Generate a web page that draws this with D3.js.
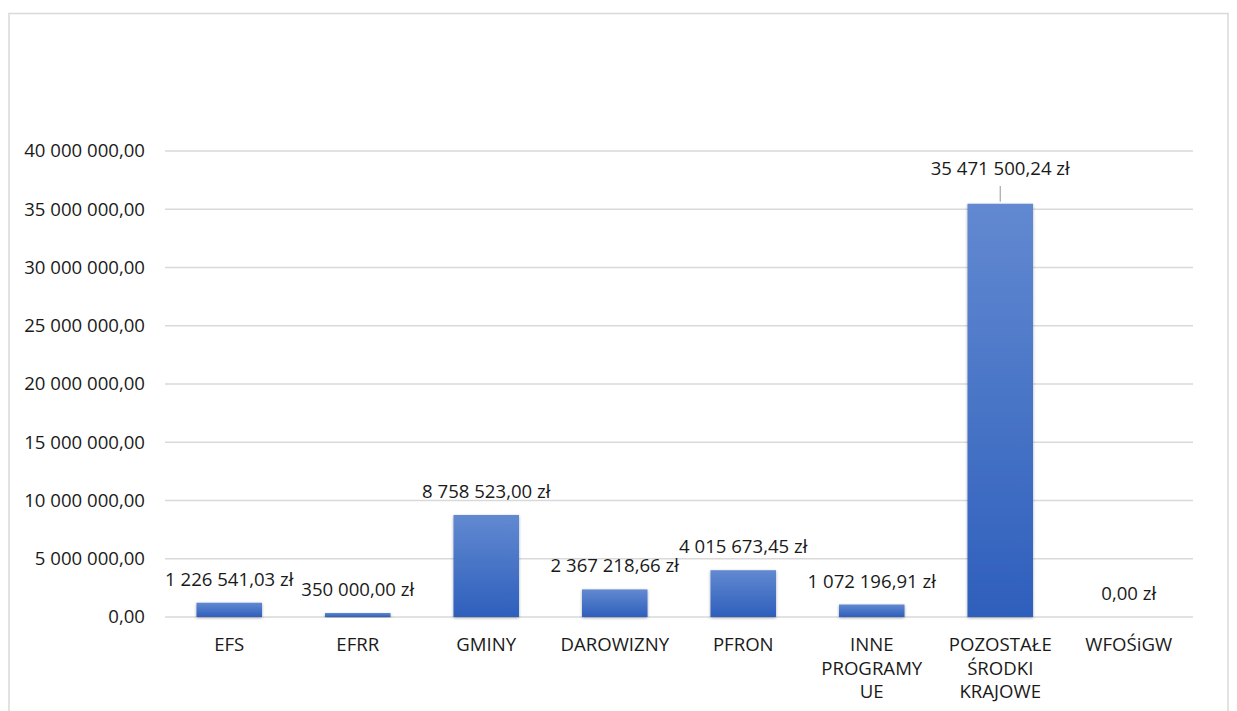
<!DOCTYPE html>
<html><head><meta charset="utf-8">
<script src="https://cdn.jsdelivr.net/npm/d3@7"></script>
<style>
body{margin:0;background:#fff;}
svg{display:block;font-family:"Open Sans",sans-serif;}
</style></head><body>
<svg id="c" width="1237" height="711"></svg>
<script>
const categories = [["EFS"],["EFRR"],["GMINY"],["DAROWIZNY"],["PFRON"],["INNE","PROGRAMY","UE"],["POZOSTAŁE","ŚRODKI","KRAJOWE"],["WFOŚiGW"]];
const values = [1226541.03, 350000.00, 8758523.00, 2367218.66, 4015673.45, 1072196.91, 35471500.24, 0];
const valueLabels = ["1 226 541,03 zł","350 000,00 zł","8 758 523,00 zł","2 367 218,66 zł","4 015 673,45 zł","1 072 196,91 zł","35 471 500,24 zł","0,00 zł"];
const yTicks = [0,5000000,10000000,15000000,20000000,25000000,30000000,35000000,40000000];
const yTickLabels = ["0,00","5 000 000,00","10 000 000,00","15 000 000,00","20 000 000,00","25 000 000,00","30 000 000,00","35 000 000,00","40 000 000,00"];

const FS = 18.6;
const TXT = "#1a1a1a";
const svg = d3.select("#c");
const defs = svg.append("defs");
const g1 = defs.append("linearGradient").attr("id","bg").attr("x1",0).attr("y1",0).attr("x2",0).attr("y2",1);
g1.append("stop").attr("offset","0%").attr("stop-color","#6289d1");
g1.append("stop").attr("offset","100%").attr("stop-color","#2e5fbc");
const f = defs.append("filter").attr("id","sh").attr("x","-20%").attr("y","-20%").attr("width","140%").attr("height","140%");
f.append("feGaussianBlur").attr("in","SourceAlpha").attr("stdDeviation",1.5).attr("result","b");
f.append("feOffset").attr("in","b").attr("dx",0).attr("dy",1).attr("result","o");
f.append("feComponentTransfer").attr("in","o").attr("result","o2").append("feFuncA").attr("type","linear").attr("slope",0.35);
const m = f.append("feMerge"); m.append("feMergeNode").attr("in","o2"); m.append("feMergeNode").attr("in","SourceGraphic");

// chart border
svg.append("rect").attr("x",9).attr("y",13.5).attr("width",1219).attr("height",720).attr("fill","none").attr("stroke","#d9d9d9").attr("stroke-width",1.5);

const x = d3.scaleBand().domain(d3.range(categories.length)).range([165,1193]).paddingInner(0.49).paddingOuter(0.245);
const y = d3.scaleLinear().domain([0,40000000]).range([617,151]);

const grid = svg.append("g");
grid.selectAll("line").data(yTicks).join("line")
  .attr("x1",165).attr("x2",1193).attr("y1",d=>y(d)).attr("y2",d=>y(d))
  .attr("stroke","#d9d9d9").attr("stroke-width",1.3);

const yAxis = svg.append("g").attr("transform","translate(145,0)")
  .call(d3.axisLeft(y).tickValues(yTicks).tickFormat((d,i)=>yTickLabels[i]).tickSize(0).tickPadding(0));
yAxis.select(".domain").remove();
yAxis.selectAll("text").attr("font-size",FS).attr("fill",TXT).attr("font-family","'Open Sans',sans-serif");

svg.append("g").selectAll("rect").data(values).join("rect")
  .attr("x",(d,i)=>x(i)).attr("width",x.bandwidth())
  .attr("y",d=>y(d)).attr("height",d=>y(0)-y(d))
  .attr("fill","url(#bg)").attr("filter","url(#sh)");

const xAxis = svg.append("g").attr("transform","translate(0,617)")
  .call(d3.axisBottom(x).tickSize(0).tickFormat(""));
xAxis.select(".domain").remove();
xAxis.selectAll(".tick").each(function(d){
  const t = d3.select(this).append("text").attr("text-anchor","middle").attr("font-size",FS).attr("fill",TXT)
    .attr("font-family","'Open Sans',sans-serif");
  categories[d].forEach((s,k)=>t.append("tspan").attr("x",0).attr("y",34+k*23.5).text(s));
});

const lab = svg.append("g");
values.forEach((v,i)=>{
  const cx = x(i)+x.bandwidth()/2;
  let ly = y(v)-17;
  if(i===6){
    ly = y(40000000)+24;
    lab.append("line").attr("x1",cx).attr("x2",cx).attr("y1",ly+11).attr("y2",y(v)-2).attr("stroke","#a6a6a6").attr("stroke-width",1.2);
  }
  lab.append("text").attr("x",cx).attr("y",ly).attr("text-anchor","middle").attr("font-size",FS).attr("fill",TXT)
    .text(valueLabels[i]);
});
</script></body></html>
